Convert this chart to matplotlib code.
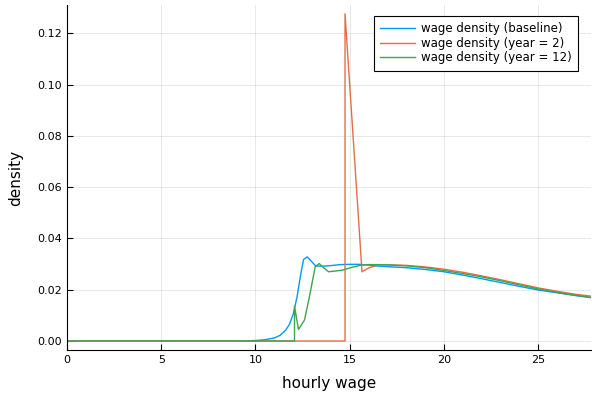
import matplotlib
matplotlib.use("Agg")
import matplotlib.pyplot as plt

# baseline wage density
x_base = [0, 9.0, 9.5, 10.0, 10.5, 11.0, 11.3, 11.6, 11.8, 12.0, 12.2, 12.4, 12.55, 12.75,
          13.2, 13.6, 14.0, 14.5, 15.0, 15.5, 16.0, 16.5, 17, 18, 19, 20, 21, 22, 23, 24,
          25, 26, 27, 27.8]
y_base = [0, 0, 0.00005, 0.0002, 0.0005, 0.0012, 0.0022, 0.0042, 0.0065, 0.0105, 0.017,
          0.026, 0.0318, 0.0328, 0.0292, 0.0292, 0.0294, 0.0298, 0.0299, 0.0299, 0.0296,
          0.0292, 0.0290, 0.0286, 0.0279, 0.0270, 0.0257, 0.0243, 0.0228, 0.0213, 0.0199,
          0.0188, 0.0177, 0.0169]

# year = 2
x_y2 = [0, 14.75, 14.75, 15.65, 16.0, 16.5, 17, 18, 19, 20, 21, 22, 23, 24, 25, 26, 27, 27.8]
y_y2 = [0, 0, 0.1276, 0.0270, 0.0285, 0.0296, 0.0297, 0.0295, 0.0289, 0.0280, 0.0268,
        0.0254, 0.0239, 0.0223, 0.0207, 0.0194, 0.0182, 0.0175]

# year = 12
x_y12 = [0, 12.07, 12.07, 12.28, 12.6, 12.86, 13.03, 13.17, 13.38, 13.56, 13.88, 14.6,
         15.0, 15.6, 16.0, 16.5, 17, 18, 19, 20, 21, 22, 23, 24, 25, 26, 27, 27.8]
y_y12 = [0, 0, 0.0136, 0.0045, 0.0082, 0.0172, 0.0237, 0.0290, 0.0302, 0.0289, 0.0270,
         0.0276, 0.0285, 0.0296, 0.0298, 0.0298, 0.0297, 0.0293, 0.0286, 0.0275, 0.0263,
         0.0250, 0.0235, 0.0219, 0.0203, 0.0190, 0.0178, 0.0170]

labels = ["wage density (baseline)", "wage density (year = 2)", "wage density (year = 12)"]
colors = ["#009AFA", "#E36F47", "#3EA44E"]

xticks = [0, 5, 10, 15, 20, 25]
yticks = [0.00, 0.02, 0.04, 0.06, 0.08, 0.10, 0.12]

fig = plt.figure(figsize=(5.92, 3.95), dpi=100)
ax = fig.add_axes([67/592, 45/395, (591-67)/592, (350-5)/395])

for xs, ys, lab, c in zip([x_base, x_y2, x_y12], [y_base, y_y2, y_y12], labels, colors):
    ax.plot(xs, ys, color=c, lw=1.0, label=lab)

ax.set_xlim(0, 27.8)
ax.set_ylim(-0.0035, 0.131)
ax.set_xticks(xticks)
ax.set_xticklabels([str(t) for t in xticks])
ax.set_yticks(yticks)
ax.set_yticklabels([f"{t:.2f}" for t in yticks])
ax.grid(True, color="black", alpha=0.1, lw=0.6)
for s in ["top", "right"]:
    ax.spines[s].set_visible(False)
for s in ["left", "bottom"]:
    ax.spines[s].set_color("black")
    ax.spines[s].set_linewidth(0.8)
ax.tick_params(direction="in", length=4, width=0.8, labelsize=8, colors="black")
ax.set_xlabel("hourly wage", fontsize=11, labelpad=8)
ax.set_ylabel("density", fontsize=11, labelpad=10.5)

leg = ax.legend(loc="upper right", fontsize=8.5, frameon=True, fancybox=False,
                edgecolor="black", framealpha=1, handlelength=3.0, handletextpad=0.45,
                borderpad=0.55, labelspacing=0.12, borderaxespad=0,
                bbox_to_anchor=((578-67)/524, (350-16)/345))
leg.get_frame().set_linewidth(0.8)

fig.savefig("out.png", dpi=100)
